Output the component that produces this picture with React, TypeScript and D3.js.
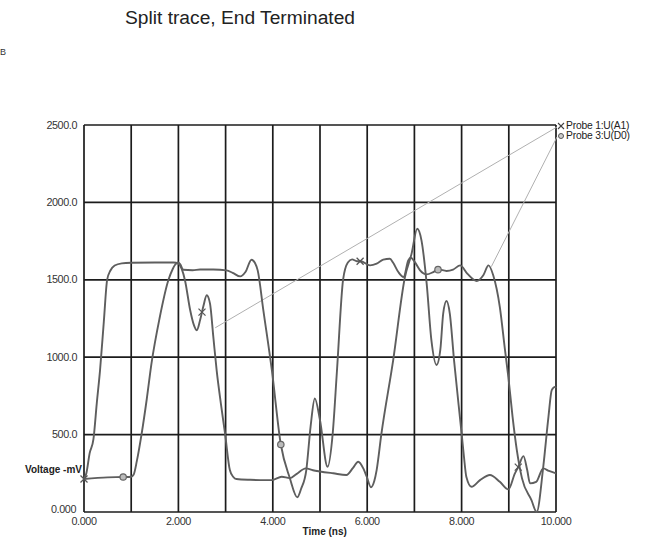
import React from "react";
import * as d3 from "d3";

const TITLE = "Split trace, End Terminated";
const X_TICKS = [0, 2, 4, 6, 8, 10];
const X_TICK_LABELS = ["0.000", "2.000", "4.000", "6.000", "8.000", "10.000"];
const X_GRID = [0, 1, 2, 3, 4, 5, 6, 7, 8, 9, 10];
const Y_TICKS = [500, 1000, 1500, 2000, 2500];
const Y_TICK_LABELS = ["500.0", "1000.0", "1500.0", "2000.0", "2500.0"];
const Y_ZERO_LABEL = "0.000";
const X_TITLE = "Time  (ns)";
const Y_TITLE = "Voltage  -mV";
const LEGEND = ["Probe 1:U(A1)", "Probe 3:U(D0)"];

// Probe 1 : U(A1)
const probe1Time = [0, 0.05, 0.12, 0.2, 0.27, 0.34, 0.42, 0.49, 0.56, 0.65, 0.8, 1.0, 1.5, 1.9, 2.0, 2.07, 2.14, 2.25, 2.32, 2.39, 2.46, 2.53, 2.6, 2.67, 2.74, 2.81, 2.9, 2.99, 3.09, 3.16, 3.23, 3.52, 3.87, 3.98, 4.19, 4.36, 4.5, 4.7, 4.85, 5.0, 5.28, 5.56, 5.7, 5.81, 5.92, 5.99, 6.08, 6.15, 6.2, 6.3, 6.55, 6.8, 6.94, 7.06, 7.15, 7.26, 7.36, 7.47, 7.55, 7.61, 7.68, 7.75, 7.84, 8.0, 8.05, 8.1, 8.21, 8.39, 8.6, 8.81, 8.99, 9.13, 9.2, 9.31, 9.39, 9.45, 9.58, 9.73, 9.85, 10];
const probe1Mv = [213, 250, 380, 470, 700, 916, 1230, 1500, 1560, 1592, 1606, 1610, 1612, 1612, 1605, 1570, 1496, 1303, 1215, 1174, 1240, 1330, 1400, 1346, 1131, 916, 700, 503, 271, 228, 213, 208, 206, 206, 228, 219, 245, 282, 270, 262, 250, 239, 285, 325, 280, 228, 160, 200, 271, 503, 980, 1518, 1668, 1830, 1755, 1475, 1110, 950, 1050, 1282, 1363, 1282, 980, 508, 357, 228, 163, 206, 239, 195, 146, 250, 290, 361, 271, 185, 195, 282, 265, 250];

// Probe 3 : U(D0)
const probe3Time = [0, 0.5, 0.83, 1.0, 1.05, 1.12, 1.22, 1.33, 1.43, 1.6, 1.79, 1.88, 1.93, 1.99, 2.04, 2.1, 2.3, 2.46, 2.74, 3.02, 3.15, 3.31, 3.42, 3.55, 3.62, 3.68, 3.8, 3.98, 4.17, 4.36, 4.52, 4.6, 4.71, 4.8, 4.89, 5.0, 5.16, 5.27, 5.36, 5.49, 5.59, 5.68, 5.78, 5.86, 6.06, 6.2, 6.34, 6.48, 6.55, 6.66, 6.77, 6.87, 6.92, 7.01, 7.12, 7.26, 7.4, 7.51, 7.68, 7.82, 7.97, 8.12, 8.32, 8.46, 8.57, 8.67, 8.81, 8.92, 8.99, 9.08, 9.17, 9.28, 9.48, 9.59, 9.73, 9.84, 9.91, 9.98, 10];
const probe3Mv = [213, 224, 226, 228, 240, 330, 503, 730, 960, 1250, 1500, 1570, 1597, 1612, 1600, 1565, 1562, 1567, 1567, 1561, 1545, 1522, 1550, 1630, 1610, 1561, 1303, 916, 436, 220, 95, 150, 271, 550, 733, 593, 292, 510, 916, 1503, 1612, 1632, 1620, 1620, 1593, 1604, 1630, 1636, 1610, 1550, 1518, 1625, 1643, 1614, 1561, 1535, 1550, 1567, 1557, 1566, 1593, 1540, 1492, 1529, 1593, 1529, 1324, 1045, 873, 615, 400, 217, 77, 0, 292, 615, 787, 808, 800];

// markers: time and which probe the marker sits on
const crossMarkerTime = [0, 2.5, 5.85, 9.2];
const crossMarkerProbe = [1, 1, 3, 1];
const circleMarkerTime = [0.83, 4.17, 7.5];
const circleMarkerProbe = [3, 3, 3];

// leader lines from the legend to points on the traces
const leaderTime = [2.78, 8.63];
const leaderMv = [1190, 1585];

const W = 645;
const H = 538;

function interp(ts: number[], vs: number[], t: number) {
  const i = Math.max(1, d3.bisectLeft(ts, t));
  if (i >= ts.length) return vs[vs.length - 1];
  const t0 = ts[i - 1], t1 = ts[i];
  const f = t1 === t0 ? 0 : (t - t0) / (t1 - t0);
  return vs[i - 1] + f * (vs[i] - vs[i - 1]);
}

export default function App() {
  const x = d3.scaleLinear().domain([0, 10]).range([84, 556]);
  const y = d3.scaleLinear().domain([0, 2500]).range([512, 125]);

  const line = d3
    .line<[number, number]>()
    .x((d) => x(d[0]))
    .y((d) => y(d[1]))
    .curve(d3.curveMonotoneX);

  const p1 = probe1Time.map((t, i) => [t, probe1Mv[i]] as [number, number]);
  const p3 = probe3Time.map((t, i) => [t, probe3Mv[i]] as [number, number]);

  const valueOn = (probe: number, t: number) =>
    probe === 1 ? interp(probe1Time, probe1Mv, t) : interp(probe3Time, probe3Mv, t);

  const gridColor = "#1c1c1c";
  const traceColor = "#5e5e5e";
  const font = "'Liberation Sans', Arial, sans-serif";

  const legendX = 557;
  const legendY = [129, 139];

  return (
    <svg
      width={W}
      height={H}
      style={{ position: "absolute", left: 0, top: 0, background: "#fff" }}
      fontFamily={font}
    >
      <text x={240} y={24} textAnchor="middle" fontSize={19.2} fill="#222">
        {TITLE}
      </text>
      <text x={0} y={55} fontSize={9} fill="#333">B</text>

      {/* grid */}
      {X_GRID.map((t) => (
        <line key={"gx" + t} x1={x(t)} x2={x(t)} y1={y(0)} y2={y(2500)} stroke={gridColor} strokeWidth={1.7} />
      ))}
      {[0, ...Y_TICKS].map((v) => (
        <line key={"gy" + v} x1={x(0)} x2={x(10)} y1={y(v)} y2={y(v)} stroke={gridColor} strokeWidth={1.7} />
      ))}

      {/* y tick labels */}
      {Y_TICKS.map((v, i) => (
        <text key={"yl" + v} x={77} y={y(v) + 3.5} textAnchor="end" fontSize={10.8} letterSpacing={-0.4} fill="#333">
          {Y_TICK_LABELS[i]}
        </text>
      ))}
      <text x={76} y={y(0) + 1} textAnchor="end" fontSize={10.8} letterSpacing={-0.4} fill="#333">
        {Y_ZERO_LABEL}
      </text>
      <text x={82} y={473} textAnchor="end" fontSize={10} fontWeight="bold" fill="#222">
        {Y_TITLE}
      </text>

      {/* x tick labels */}
      {X_TICKS.map((t, i) => (
        <text key={"xl" + t} x={x(t)} y={y(0) + 13} textAnchor="middle" fontSize={10.8} letterSpacing={-0.4} fill="#333">
          {X_TICK_LABELS[i]}
        </text>
      ))}
      <text x={x(5.1)} y={y(0) + 23} textAnchor="middle" fontSize={10} fontWeight="bold" fill="#222">
        {X_TITLE}
      </text>

      {/* leader lines */}
      {leaderTime.map((t, i) => (
        <line key={"ld" + i} x1={legendX} y1={legendY[i] - 2} x2={x(t)} y2={y(leaderMv[i])} stroke="#b0b0b0" strokeWidth={1} />
      ))}

      {/* traces */}
      <path d={line(p1) || ""} fill="none" stroke={traceColor} strokeWidth={1.9} />
      <path d={line(p3) || ""} fill="none" stroke={traceColor} strokeWidth={1.9} />

      {/* markers */}
      {crossMarkerTime.map((t, i) => {
        const cx = x(t);
        const cy = y(valueOn(crossMarkerProbe[i], t));
        const s = 3.5;
        return (
          <g key={"cm" + i} stroke="#555" strokeWidth={1.2}>
            <line x1={cx - s} y1={cy - s} x2={cx + s} y2={cy + s} />
            <line x1={cx - s} y1={cy + s} x2={cx + s} y2={cy - s} />
          </g>
        );
      })}
      {circleMarkerTime.map((t, i) => (
        <circle key={"om" + i} cx={x(t)} cy={y(valueOn(circleMarkerProbe[i], t))} r={3.2} fill="#bbb" stroke="#666" strokeWidth={1.2} />
      ))}

      {/* legend */}
      <g>
        <g stroke="#444" strokeWidth={1.1}>
          <line x1={legendX + 1} y1={legendY[0] - 6} x2={legendX + 7} y2={legendY[0]} />
          <line x1={legendX + 1} y1={legendY[0]} x2={legendX + 7} y2={legendY[0] - 6} />
        </g>
        <circle cx={legendX + 4} cy={legendY[1] - 3} r={2.5} fill="#ccc" stroke="#555" strokeWidth={1} />
        {LEGEND.map((s, i) => (
          <text key={"lg" + i} x={legendX + 9} y={legendY[i]} fontSize={10.3} letterSpacing={-0.2} fill="#222">
            {s}
          </text>
        ))}
      </g>
    </svg>
  );
}
